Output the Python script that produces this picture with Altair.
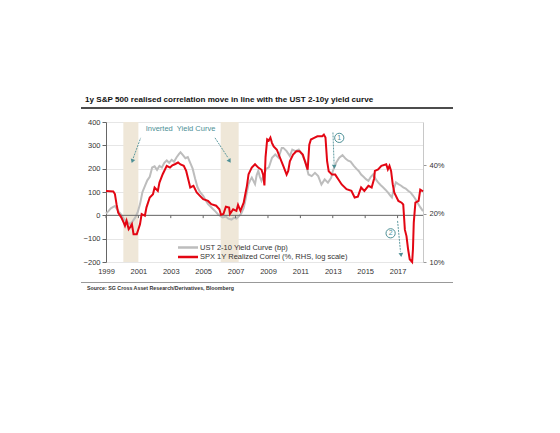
import altair as alt
import pandas as pd

# ---------------- data ----------------
grey_year = [1999.0, 1999.15, 1999.3, 1999.45, 1999.55, 1999.65, 1999.8, 1999.95, 2000.1, 2000.3,
             2000.5, 2000.65, 2000.8, 2000.95, 2001.1, 2001.25, 2001.4, 2001.55, 2001.7, 2001.85,
             2002.0, 2002.15, 2002.3, 2002.45, 2002.6, 2002.75, 2002.9, 2003.05, 2003.2, 2003.35,
             2003.5, 2003.6, 2003.75, 2003.9, 2004.05, 2004.2, 2004.35, 2004.5, 2004.65, 2004.8,
             2005.0, 2005.15, 2005.3, 2005.45, 2005.6, 2005.75, 2005.9, 2006.05, 2006.2, 2006.4,
             2006.55, 2006.75, 2006.9, 2007.05, 2007.2, 2007.35, 2007.5, 2007.6, 2007.7, 2007.8,
             2007.9, 2008.0, 2008.1, 2008.2, 2008.3, 2008.4, 2008.5, 2008.6, 2008.75, 2008.9,
             2009.05, 2009.25, 2009.45, 2009.65, 2009.85, 2009.95, 2010.15, 2010.35, 2010.5, 2010.7,
             2010.9, 2011.1, 2011.3, 2011.5, 2011.7, 2011.9, 2012.1, 2012.3, 2012.5, 2012.7,
             2012.9, 2013.0, 2013.2, 2013.4, 2013.6, 2013.8, 2013.95, 2014.1, 2014.3, 2014.45,
             2014.6, 2014.75, 2014.9, 2015.05, 2015.2, 2015.35, 2015.5, 2015.65, 2015.8, 2015.95,
             2016.1, 2016.25, 2016.4, 2016.55, 2016.65, 2016.75, 2016.9, 2017.05, 2017.2, 2017.35,
             2017.5, 2017.65, 2017.8, 2017.95, 2018.1, 2018.25, 2018.4, 2018.57]
grey_bp = [8, 18, 30, 36, 40, 30, 15, 2, -15, -28,
           -38, -25, -10, 12, 48, 100, 125, 150, 165, 205,
           210, 195, 212, 205, 225, 235, 225, 238, 230, 248,
           262, 270, 258, 245, 250, 225, 200, 158, 120, 100,
           84, 65, 48, 38, 27, 17, 6, -3, -9, -5,
           -14, -18, -10, -14, -4, 8, 32, 63, 100, 134,
           150, 162, 148, 134, 172, 191, 165, 148, 175, 200,
           205, 247, 261, 247, 289, 289, 275, 254, 282, 275,
           282, 261, 232, 175, 168, 182, 168, 132, 154, 140,
           161, 189, 225, 247, 258, 242, 234, 230, 212, 200,
           190, 175, 165, 155, 148, 165, 176, 155, 141, 130,
           120, 110, 98, 85, 77, 110, 141, 134, 128, 120,
           115, 105, 98, 85, 70, 52, 35, 18]

red_year = [1999.0, 1999.45, 1999.55, 1999.65, 1999.75, 1999.95, 2000.1, 2000.17, 2000.27, 2000.4,
            2000.5, 2000.6, 2000.7, 2000.9, 2001.0, 2001.1, 2001.2, 2001.4, 2001.5, 2001.7,
            2001.9, 2002.0, 2002.2, 2002.3, 2002.5, 2002.75, 2002.95, 2003.1, 2003.25, 2003.45,
            2003.6, 2003.8, 2003.95, 2004.1, 2004.2, 2004.4, 2004.6, 2004.8, 2005.0, 2005.3,
            2005.5, 2005.8, 2006.0, 2006.1, 2006.25, 2006.4, 2006.6, 2006.65, 2006.85, 2007.05,
            2007.15, 2007.3, 2007.5, 2007.6, 2007.7, 2007.8, 2007.9, 2008.0, 2008.2, 2008.4,
            2008.6, 2008.7, 2008.78, 2008.85, 2008.95, 2009.05, 2009.15, 2009.25, 2009.35, 2009.55,
            2009.75, 2009.95, 2010.15, 2010.25, 2010.35, 2010.55, 2010.75, 2010.95, 2011.15, 2011.25,
            2011.35, 2011.45, 2011.55, 2011.65, 2011.85, 2012.05, 2012.35, 2012.45, 2012.55, 2012.65,
            2012.75, 2012.95, 2013.15, 2013.35, 2013.55, 2013.85, 2014.15, 2014.35, 2014.55, 2014.75,
            2014.95, 2015.2, 2015.4, 2015.55, 2015.6, 2015.8, 2016.0, 2016.3, 2016.4, 2016.5,
            2016.6, 2016.7, 2016.8, 2017.05, 2017.25, 2017.35, 2017.45, 2017.55, 2017.65, 2017.75,
            2017.9, 2017.95, 2018.0, 2018.1, 2018.3, 2018.4, 2018.57]
red_pct = [27.7, 27.5, 26.5, 22.9, 20.3, 18.9, 17.5, 16.8, 18.1, 16.0,
           16.5, 17.2, 14.9, 14.9, 16.0, 17.2, 19.9, 19.4, 21.9, 25.2,
           26.4, 29.1, 27.7, 31.2, 35.2, 39.7, 38.7, 40.0, 40.6, 41.6,
           40.5, 39.7, 36.9, 32.0, 29.1, 29.8, 27.1, 25.8, 24.6, 24.0,
           22.9, 22.4, 21.3, 19.7, 19.9, 22.1, 21.8, 19.9, 21.3, 20.8,
           22.7, 20.8, 23.4, 26.4, 29.8, 35.2, 36.9, 38.7, 40.6, 38.7,
           37.5, 35.0, 30.0, 45.0, 58.0, 57.0, 59.5, 55.0, 52.5, 50.0,
           44.4, 39.5, 35.0, 36.9, 42.4, 46.6, 48.9, 48.9, 46.6, 43.3,
           40.4, 37.5, 53.8, 57.9, 59.2, 60.6, 60.6, 62.0, 59.5, 42.4,
           36.7, 35.0, 35.0, 32.6, 30.4, 28.4, 27.7, 25.2, 25.5, 29.1,
           27.7, 29.8, 29.1, 33.0, 36.9, 37.7, 39.7, 40.6, 37.7, 39.7,
           36.9, 30.5, 27.0, 24.0, 23.4, 22.8, 15.9, 14.5, 12.0, 10.4,
           10.0, 12.0, 17.6, 23.4, 24.0, 28.2, 27.5]

inv_start = [2000.07, 2006.08]
inv_end = [2001.0, 2007.19]

x_ticks = [1999, 2001, 2003, 2005, 2007, 2009, 2011, 2013, 2015, 2017]
left_ticks = [-200, -100, 0, 100, 200, 300, 400]
right_ticks = [10, 20, 40]

S_GREY = "UST 2-10 Yield Curve (bp)"
S_RED = "SPX 1Y Realized Correl (%, RHS, log scale)"
TITLE = "1y S&P 500 realised correlation move in line with the UST 2-10y yield curve"
SOURCE = "Source: SG Cross Asset Research/Derivatives, Bloomberg"

# annotation anchors (data coordinates: year, bp)
ann_text = ["Inverted\u00a0 Yield Curve"]
ann_text_x = [2001.45]
ann_text_y = [372]
arrow_id = [1, 1, 2, 2, 3, 3, 4, 4]
arrow_x = [2001.14, 2000.68, 2005.73, 2006.55, 2013.01, 2013.08, 2017.0, 2017.18]
arrow_y = [332, 245, 332, 245, 355, 222, -24, -155]
head_x = [2000.64, 2006.61, 2013.09, 2017.21]
head_y = [235, 235, 211, -167]
head_angle = [199, 147, 178, 174]
circ_label = ["1", "2"]
circ_x = [2013.4, 2016.57]
circ_y = [332, -77]

# ---------------- styling ----------------
FONT = "Liberation Sans"
TEAL = "#4e9096"
GREY = "#bdbdbd"
RED = "#e30613"
W, H = 317, 140

xs = alt.Scale(domain=[1999, 2018.57], nice=False, zero=False)
yl = alt.Scale(domain=[-200, 400], nice=False, zero=False)
yr = alt.Scale(type="log", domain=[10, 74.4], nice=False)

xaxis = alt.Axis(values=x_ticks, format="d", title=None, domain=False, ticks=False,
                 grid=False, labelFont=FONT, labelFontSize=7.5, labelColor="#333",
                 labelPadding=5, labelFlush=False, labelOverlap=False)
ylaxis = alt.Axis(values=left_ticks, title=None, orient="left", domainColor="#666",
                  tickColor="#666", tickSize=4, labelFont=FONT, labelFontSize=7.5,
                  labelColor="#333", labelPadding=2, grid=True, gridColor="#e6e6e6",
                  gridWidth=1, labelFlush=False, labelOverlap=False)


def X(f):
    return alt.X(f, scale=xs, axis=xaxis)


def Y(f):
    return alt.Y(f, scale=yl, axis=ylaxis)


grey_df = pd.DataFrame({"year": grey_year, "bp": grey_bp})
red_df = pd.DataFrame({"year": red_year, "pct": red_pct})
shade_df = pd.DataFrame({"start": inv_start, "end": inv_end, "lo": [-200] * 2, "hi": [400] * 2})
tick_df = pd.DataFrame({"year": x_ticks, "y0": [0] * len(x_ticks), "y1": [-12] * len(x_ticks)})
zero_df = pd.DataFrame({"y": [0]})
ann_df = pd.DataFrame({"t": ann_text, "x": ann_text_x, "y": ann_text_y})
arrow_df = pd.DataFrame({"id": arrow_id, "x": arrow_x, "y": arrow_y})
head_df = pd.DataFrame({"x": head_x, "y": head_y, "a": head_angle})
circ_df = pd.DataFrame({"t": circ_label, "x": circ_x, "y": circ_y})
one = pd.DataFrame({"k": [0]})

shade = alt.Chart(shade_df).mark_rect(color="#efe7d8").encode(
    x=X("start:Q"), x2="end", y=Y("lo:Q"), y2="hi")

zero = alt.Chart(zero_df).mark_rule(color="#666", strokeWidth=1).encode(y=Y("y:Q"))

ticks = alt.Chart(tick_df).mark_rule(color="#666", strokeWidth=1).encode(
    x=X("year:Q"), y=Y("y0:Q"), y2="y1")

grey = alt.Chart(grey_df).mark_line(strokeWidth=2, color=GREY).encode(
    x=X("year:Q"), y=Y("bp:Q"))

ann = alt.Chart(ann_df).mark_text(align="left", baseline="middle", font=FONT, fontSize=7.5,
                                  color=TEAL).encode(x=X("x:Q"), y=Y("y:Q"), text="t:N")

arrows = alt.Chart(arrow_df).mark_line(color=TEAL, strokeWidth=0.9, strokeDash=[2, 1]).encode(
    x=X("x:Q"), y=Y("y:Q"), detail="id:N")

heads = alt.Chart(head_df).mark_point(shape="triangle", filled=True, size=22, color=TEAL,
                                      opacity=1).encode(
    x=X("x:Q"), y=Y("y:Q"), angle=alt.Angle("a:Q", scale=None))

circles = alt.Chart(circ_df).mark_point(shape="circle", size=85, filled=False, color=TEAL,
                                        strokeWidth=1, opacity=1, fill="white",
                                        fillOpacity=1).encode(x=X("x:Q"), y=Y("y:Q"))

circ_txt = alt.Chart(circ_df).mark_text(font=FONT, fontSize=7, color=TEAL, baseline="middle",
                                        align="center").encode(
    x=X("x:Q"), y=Y("y:Q"), text="t:N")

# legend drawn inside the plot (pixel layout)
leg_grey = alt.Chart(one).mark_rule(color=GREY, strokeWidth=2.5).encode(
    x=alt.value(72), x2=alt.value(92), y=alt.value(125.5))
leg_red = alt.Chart(one).mark_rule(color=RED, strokeWidth=2.5).encode(
    x=alt.value(72), x2=alt.value(92), y=alt.value(135))
leg_t1 = alt.Chart(one).mark_text(align="left", baseline="middle", font=FONT, fontSize=7.5,
                                  color="#333").encode(
    x=alt.value(94), y=alt.value(125.5), text=alt.value(S_GREY))
leg_t2 = alt.Chart(one).mark_text(align="left", baseline="middle", font=FONT, fontSize=7.5,
                                  color="#333").encode(
    x=alt.value(94), y=alt.value(135), text=alt.value(S_RED))

# frame elements (title, rules, source) positioned in pixels around the plot
title = alt.Chart(one).mark_text(align="left", baseline="middle", font=FONT, fontSize=8.1,
                                 fontWeight="bold", color="#111").encode(
    x=alt.value(-21), y=alt.value(-22), text=alt.value(TITLE))
top_rule = alt.Chart(one).mark_rule(color="#111", strokeWidth=1.3).encode(
    x=alt.value(-25), x2=alt.value(347), y=alt.value(-14))
bot_rule = alt.Chart(one).mark_rule(color="#999", strokeWidth=1.2).encode(
    x=alt.value(-25), x2=alt.value(347), y=alt.value(160.5))
source = alt.Chart(one).mark_text(align="left", baseline="middle", font=FONT, fontSize=5.3,
                                  fontWeight="bold", color="#333").encode(
    x=alt.value(-19), y=alt.value(165.5), text=alt.value(SOURCE))

left = alt.layer(shade, grey, zero, ticks, ann, arrows, heads, circles, circ_txt,
                 leg_grey, leg_red, leg_t1, leg_t2,
                 title, top_rule, bot_rule, source)

red = alt.Chart(red_df).mark_line(strokeWidth=2, color=RED).encode(
    x=X("year:Q"),
    y=alt.Y("pct:Q", scale=yr,
            axis=alt.Axis(values=right_ticks, labelExpr="datum.value + '%'", title=None,
                          orient="right", grid=False, domainColor="#c8c8c8", tickColor="#999",
                          tickSize=3, labelFont=FONT, labelFontSize=7.5, labelColor="#333",
                          labelPadding=3, labelFlush=False, labelOverlap=False)))

chart = alt.layer(left, red).resolve_scale(y="independent").properties(
    width=W, height=H,
    autosize=alt.AutoSizeParams(type="none"),
    padding={"left": 98, "top": 114, "right": 129, "bottom": 163},
    background="white",
).configure_view(stroke=None)

chart.save("out.html", embed_options={"renderer": "svg", "actions": False})
